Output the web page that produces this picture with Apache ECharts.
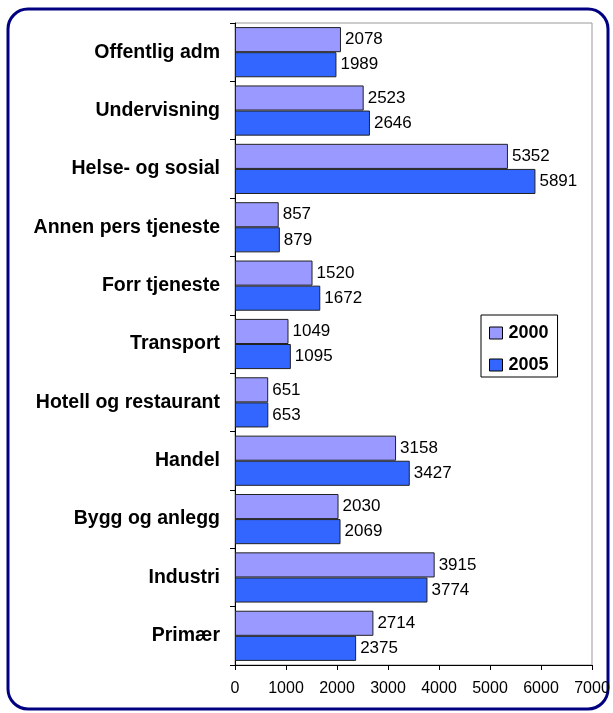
<!DOCTYPE html>
<html>
<head>
<meta charset="utf-8">
<script src="https://cdn.jsdelivr.net/npm/echarts@6/dist/echarts.min.js"></script>
<style>
html, body { margin: 0; padding: 0; background: #fff; }
#chart { width: 613px; height: 713px; }
</style>
</head>
<body>
<div id="chart"></div>
<script>
var categories = ['Offentlig adm', 'Undervisning', 'Helse- og sosial', 'Annen pers tjeneste',
	'Forr tjeneste', 'Transport', 'Hotell og restaurant', 'Handel', 'Bygg og anlegg', 'Industri', 'Primær'];
var data2000 = [2078, 2523, 5352, 857, 1520, 1049, 651, 3158, 2030, 3915, 2714];
var data2005 = [1989, 2646, 5891, 879, 1672, 1095, 653, 3427, 2069, 3774, 2375];

var myChart = echarts.init(document.getElementById('chart'));
var fontFam = 'Liberation Sans, Arial, sans-serif';
var labelStyle = {
	show : true,
	position : 'right',
	distance : 4,
	color : '#000',
	fontFamily : fontFam,
	fontSize : 17
};
var option = {
	animation : false,
	graphic : [ {
		type : 'rect',
		shape : { x : 8, y : 9, width : 600, height : 700, r : 20 },
		style : { fill : 'none', stroke : '#000080', lineWidth : 3 }
	} ],
	legend : {
		orient : 'vertical',
		left : 481,
		top : 315,
		icon : 'rect',
		itemWidth : 13,
		itemHeight : 12,
		itemGap : 14,
		itemStyle : { borderColor : '#000', borderWidth : 1 },
		padding : [ 9, 9, 3, 8 ],
		borderColor : '#000',
		borderWidth : 1,
		backgroundColor : '#fff',
		textStyle : {
			fontFamily : fontFam,
			fontWeight : 'bold',
			fontSize : 18,
			lineHeight : 18,
			color : '#000',
			padding : [ 0, 0, 0, 1 ]
		},
		data : [ '2000', '2005' ]
	},
	grid : {
		left : 235,
		right : 21,
		top : 23,
		bottom : 48,
		show : true,
		borderColor : '#999',
		borderWidth : 1
	},
	xAxis : {
		type : 'value',
		min : 0,
		max : 7000,
		interval : 1000,
		splitLine : { show : false },
		axisLine : { show : true, lineStyle : { color : '#000' } },
		axisTick : { show : true, length : 5, lineStyle : { color : '#000' } },
		axisLabel : {
			color : '#000',
			fontFamily : fontFam,
			fontSize : 16,
			margin : 16,
			formatter : function(v) { return String(v); }
		}
	},
	yAxis : {
		type : 'category',
		inverse : true,
		data : categories,
		axisLine : { show : true, lineStyle : { color : '#000' } },
		axisTick : { show : true, length : 5, inside : false, lineStyle : { color : '#000' } },
		axisLabel : {
			color : '#000',
			fontFamily : fontFam,
			fontWeight : 'bold',
			fontSize : 19.5,
			margin : 15
		}
	},
	series : [ {
		name : '2000',
		type : 'bar',
		barGap : '0%',
		barCategoryGap : '14%',
		itemStyle : { color : '#9999ff', borderColor : '#222', borderWidth : 1 },
		label : labelStyle,
		data : data2000
	}, {
		name : '2005',
		type : 'bar',
		barGap : '0%',
		barCategoryGap : '14%',
		itemStyle : { color : '#3366ff', borderColor : '#222', borderWidth : 1 },
		label : labelStyle,
		data : data2005
	} ]
};
myChart.setOption(option);
</script>
</body>
</html>
